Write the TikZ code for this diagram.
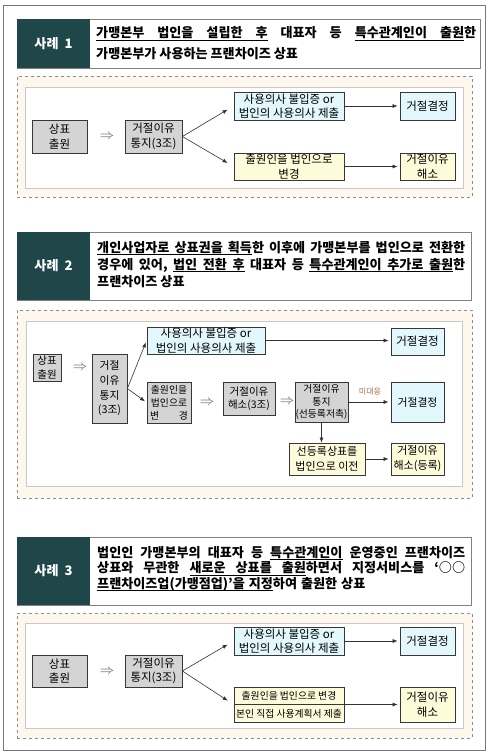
\documentclass[tikz,border=0pt]{standalone}
\usepackage{fontspec}
\setmainfont{Noto Sans CJK KR}
\usetikzlibrary{arrows.meta}
\definecolor{darkhead}{RGB}{31,70,73}
\definecolor{hdrline}{RGB}{128,128,128}
\definecolor{framecol}{RGB}{120,120,120}
\definecolor{diagbg}{RGB}{253,247,238}
\definecolor{dashcol}{RGB}{140,140,140}
\definecolor{innerline}{RGB}{200,200,200}
\definecolor{grayfill}{RGB}{212,212,212}
\definecolor{cyanfill}{RGB}{226,248,253}
\definecolor{yellowfill}{RGB}{253,251,217}
\definecolor{boxline}{RGB}{55,55,55}
\definecolor{arrcol}{RGB}{50,50,50}
\definecolor{dblcol}{RGB}{90,90,90}
\definecolor{midae}{RGB}{175,105,70}
\newcommand{\htxt}{\fontsize{13.1}{16}\selectfont\bfseries}
\newcommand{\btxt}{\fontsize{11.5}{14.5}\selectfont}
\newcommand{\stxt}{\fontsize{10.5}{13.5}\selectfont}
\newcommand{\myul}[1]{\sbox0{#1}\rlap{\vrule depth 2.6pt height -1.9pt width \wd0}\usebox0}
\newcommand{\mysp}{\hskip 2.5pt plus 1fil\relax}
\newcommand{\myulsp}{\leaders\vrule depth 2.6pt height -1.9pt\hskip 2.5pt plus 1fil\relax}
\newcommand{\myulspn}{\leaders\vrule depth 2.6pt height -1.9pt\hskip 4pt\relax}
\begin{document}
\begin{tikzpicture}[x=1pt,y=-1pt,
  frame/.style={draw=framecol, line width=0.8pt},
  hdrbox/.style={draw=hdrline, fill=white, line width=0.8pt, inner sep=0},
  darkbox/.style={fill=darkhead, inner sep=0, text=white, font=\htxt},
  htext/.style={anchor=west, inner sep=0, font=\htxt},
  diag/.style={draw=dashcol, dashed, fill=diagbg, line width=0.6pt, inner sep=0},
  innerbox/.style={draw=innerline, fill=white, line width=0.5pt, inner sep=0},
  gbox/.style={draw=boxline, fill=grayfill, line width=0.8pt, inner sep=0, align=center, font=\btxt},
  cbox/.style={draw=boxline, fill=cyanfill, line width=0.8pt, inner sep=0, align=center, font=\btxt},
  ybox/.style={draw=boxline, fill=yellowfill, line width=0.8pt, inner sep=0, align=center, font=\btxt},
  arr/.style={draw=arrcol, line width=0.6pt, -{Latex[length=5pt,width=4pt]}},
  dbl/.style={inner sep=0, text=dblcol, font=\fontsize{14}{14}\selectfont}
]
\useasboundingbox (0,0) rectangle (489,755);
\fill[white] (0,0) rectangle (489,755);
\node[frame, inner sep=0, minimum width=482pt, minimum height=745pt] (outer) at (244,377.5) {};

% ---------------- Case 1 ----------------
\node[hdrbox, minimum width=463pt, minimum height=49pt] (h1) at (248.5,43.5) {};
\node[darkbox, minimum width=73pt, minimum height=49pt] (k1) at (53.5,43.5) {사례\hspace{6pt}1};
\node[htext] (t11) at (96,33.5) {\hbox to 380pt{\myul{가맹본부}\myulsp\myul{법인을}\myulsp\myul{설립한}\myulsp\myul{후}\mysp 대표자\mysp 등\mysp\myul{특수관계인이}\myulsp\myul{출원}한}};
\node[htext] (t12) at (96,53.5) {가맹본부가 사용하는 프랜차이즈 상표};

\node[diag, minimum width=455pt, minimum height=121pt] (g1) at (244.5,136.5) {};
\node[innerbox, minimum width=438pt, minimum height=101pt] (w1) at (244,137.5) {};

\node[gbox, minimum width=55pt, minimum height=33pt] (a1) at (59.5,136.5) {상표\\출원};
\node[dbl] (r1) at (107,137) {$\Rightarrow$};
\node[gbox, minimum width=57pt, minimum height=33pt] (b1) at (153.5,136.5) {거절이유\\통지(3조)};
\node[cbox, minimum width=110pt, minimum height=28pt] (c1) at (289,106) {사용의사 불입증 or\\법인의 사용의사 제출};
\node[cbox, minimum width=55pt, minimum height=28pt] (d1) at (427.5,106) {거절결정};
\node[ybox, minimum width=110pt, minimum height=27pt] (e1) at (289,166.5) {출원인을 법인으로\\변경};
\node[ybox, minimum width=55pt, minimum height=27pt] (f1) at (427.5,166.5) {거절이유\\해소};
\draw[arr, shorten >=7pt] (b1.east) -- (c1.west);
\draw[arr, shorten >=7pt] (b1.east) -- (e1.west);
\draw[arr, shorten >=2pt] (c1.east) -- (d1.west);
\draw[arr, shorten >=2pt] (e1.east) -- (f1.west);

% ---------------- Case 2 ----------------
\node[hdrbox, minimum width=454pt, minimum height=68pt] (h2) at (244,266) {};
\node[darkbox, minimum width=73pt, minimum height=68pt] (k2) at (53.5,266) {사례\hspace{6pt}2};
\node[htext] (t21) at (97,248) {\hbox to 368pt{\myul{개인사업자로}\myulsp\myul{상표권을}\myulsp\myul{획득}한\mysp 이후에\mysp 가맹본부를\mysp 법인으로\mysp 전환한}};
\node[htext] (t22) at (97,265) {\hbox to 368pt{경우에\mysp 있어,\mysp\myul{법인}\myulsp\myul{전환}\myulsp\myul{후}\mysp 대표자\mysp 등\mysp\myul{특수관계인이}\myulsp\myul{추가로}\myulsp\myul{출원}한}};
\node[htext] (t23) at (97,282) {프랜차이즈 상표};

\node[diag, minimum width=455pt, minimum height=188pt] (g2) at (244.5,404) {};
\node[innerbox, minimum width=436pt, minimum height=165pt] (w2) at (244,403.5) {};

\node[gbox, font=\stxt, minimum width=28pt, minimum height=27pt] (a2) at (47,367.5) {상표\\출원};
\node[dbl] (r2) at (80,368) {$\Rightarrow$};
\node[gbox, font=\fontsize{10.8}{14.7}\selectfont, minimum width=35pt, minimum height=69pt] (b2) at (109.5,388.5) {거절\\이유\\통지\\(3조)};
\node[cbox, minimum width=118pt, minimum height=27pt] (c2) at (206,340.5) {사용의사 불입증 or\\법인의 사용의사 제출};
\node[cbox, minimum width=53pt, minimum height=27pt] (d2) at (417.5,341.5) {거절결정};
\node[gbox, font=\fontsize{9.8}{12.8}\selectfont, minimum width=44pt, minimum height=41pt] (e2) at (169,402.5) {출원인을\\법인으로\\\makebox[38pt]{변\hfill 경}};
\node[dbl] (r3) at (207,403) {$\Rightarrow$};
\node[gbox, font=\stxt, minimum width=52pt, minimum height=33pt] (f2) at (249,398.5) {거절이유\\해소(3조)};
\node[dbl] (r4) at (287,402) {$\Rightarrow$};
\node[gbox, font=\fontsize{9.8}{12.5}\selectfont, minimum width=53pt, minimum height=40pt] (g2b) at (321.5,402) {거절이유\\통지\\(선등록저촉)};
\node[cbox, font=\fontsize{10.8}{13}\selectfont, minimum width=53pt, minimum height=40pt] (d2b) at (417.5,402) {거절결정};
\node[ybox, font=\fontsize{11}{15}\selectfont, minimum width=76pt, minimum height=32pt] (h2b) at (327,459) {선등록상표를\\법인으로 이전};
\node[ybox, font=\fontsize{11}{15}\selectfont, minimum width=53pt, minimum height=32pt] (i2) at (417.5,459) {거절이유\\해소(등록)};
\node[inner sep=0, text=midae, font=\fontsize{8}{8}\selectfont] (m2) at (370,392) {미대응};
\draw[arr, shorten >=2pt] (b2.east) -- (c2.west);
\draw[arr, shorten >=2pt] (b2.east) -- (e2.west);
\draw[arr, shorten >=2pt] (c2.east) -- (c2.east -| d2.west);
\draw[arr, shorten >=2pt] (g2b.east) -- (d2b.west);
\draw[arr] (g2b.south) -- (g2b.south |- h2b.north);
\draw[arr, shorten >=2pt] (h2b.east) -- (i2.west);

% ---------------- Case 3 ----------------
\node[hdrbox, minimum width=454pt, minimum height=68pt] (h3) at (244,571) {};
\node[darkbox, minimum width=73pt, minimum height=68pt] (k3) at (53.5,571) {사례\hspace{6pt}3};
\node[htext] (t31) at (97,553) {\hbox to 368pt{법인인\mysp 가맹본부의\mysp 대표자\mysp 등\mysp\myul{특수관계인이}\mysp 운영중인\mysp 프랜차이즈}};
\node[htext] (t32) at (97,568.5) {\hbox to 368pt{상표와\mysp 무관한\mysp\myul{새로운}\myulsp\myul{상표를}\myulsp\myul{출원}하면서\mysp 지정서비스를\mysp ‘○○}};
\node[htext] (t33) at (97,584) {\myul{프랜차이즈업(가맹점업)’을}\myulspn\myul{지정}하여\hskip4pt 출원한\hskip4pt 상표};

\node[diag, minimum width=455pt, minimum height=125pt] (g3) at (244.5,675.5) {};
\node[innerbox, minimum width=438pt, minimum height=105pt] (w3) at (244,675.5) {};

\node[gbox, minimum width=55pt, minimum height=32pt] (a3) at (59.5,671) {상표\\출원};
\node[dbl] (r5) at (107,672) {$\Rightarrow$};
\node[gbox, minimum width=57pt, minimum height=32pt] (b3) at (153.5,671) {거절이유\\통지(3조)};
\node[cbox, minimum width=110pt, minimum height=28pt] (c3) at (289,641) {사용의사 불입증 or\\법인의 사용의사 제출};
\node[cbox, minimum width=55pt, minimum height=28pt] (d3) at (427.5,641) {거절결정};
\node[ybox, font=\fontsize{9.8}{18}\selectfont, minimum width=110pt, minimum height=35pt] (e3) at (289,704.5) {출원인을 법인으로 변경\\본인 직접 사용계획서 제출};
\draw[boxline, line width=0.6pt] (e3.west) -- (e3.east);
\node[ybox, minimum width=55pt, minimum height=35pt] (f3) at (427.5,704.5) {거절이유\\해소};
\draw[arr, shorten >=7pt] (b3.east) -- (c3.west);
\draw[arr, shorten >=7pt] (b3.east) -- (e3.west);
\draw[arr, shorten >=2pt] (c3.east) -- (d3.west);
\draw[arr, shorten >=2pt] (e3.east) -- (f3.west);
\end{tikzpicture}
\end{document}
